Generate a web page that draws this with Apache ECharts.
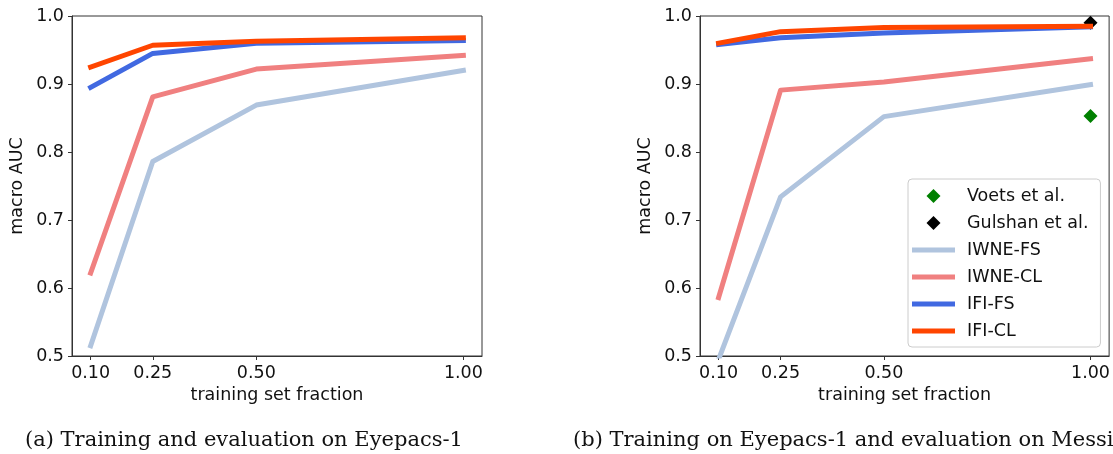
<!DOCTYPE html>
<html style="height: 100%">
  <head>
    <meta charset="utf-8" />
  </head>
  <body style="height: 100%; margin: 0; background: #fff">
    <div id="auc-container" style="width: 1113px; height: 454px"></div>
    <script type="text/javascript" src="https://cdn.jsdelivr.net/npm/echarts@6/dist/echarts.min.js"></script>
    <script type="text/javascript">
      // training set fractions (x axis)
      let fractions = [0.10, 0.25, 0.50, 1.00];
      let xTicks = [0.10, 0.25, 0.50, 1.00];

      // (a) Eyepacs-1 -> Eyepacs-1
      let iwneFsA = [0.515, 0.786, 0.869, 0.920];
      let iwneClA = [0.622, 0.881, 0.922, 0.942];
      let ifiFsA = [0.895, 0.945, 0.960, 0.964];
      let ifiClA = [0.925, 0.957, 0.963, 0.968];

      // (b) Eyepacs-1 -> Messidor
      let iwneFsB = [0.495, 0.734, 0.852, 0.899];
      let iwneClB = [0.586, 0.891, 0.903, 0.937];
      let ifiFsB = [0.958, 0.968, 0.975, 0.984];
      let ifiClB = [0.960, 0.977, 0.983, 0.985];

      // reference results (only in b)
      let voetsB = [[1.00, 0.853]];
      let gulshanB = [[1.00, 0.990]];

      let seriesNames = ["IWNE-FS", "IWNE-CL", "IFI-FS", "IFI-CL"];
      let seriesColors = ["#B0C4DE", "#F08080", "#4169E1", "#FF4500"];

      const font = "DejaVu Sans";
      const fs = 17.5;
      const axisColor = "#333";

      function pairs(ys) {
        return fractions.map(function (x, i) {
          return [x, ys[i]];
        });
      }

      function makeXAxis(idx) {
        return {
          type: "value",
          gridIndex: idx,
          min: 0.055,
          max: 1.045,
          name: "training set fraction",
          nameLocation: "middle",
          nameGap: 30,
          nameTextStyle: { fontFamily: font, fontSize: fs, color: "#111" },
          axisLine: { show: true, onZero: false, lineStyle: { color: axisColor, width: 1 } },
          axisTick: { show: true, length: 4, customValues: xTicks, lineStyle: { color: axisColor } },
          axisLabel: {
            customValues: xTicks,
            margin: 8,
            fontFamily: font,
            fontSize: fs,
            color: "#111",
            formatter: function (v) {
              return v.toFixed(2);
            },
          },
          splitLine: { show: false },
        };
      }

      function makeYAxis(idx) {
        return {
          type: "value",
          gridIndex: idx,
          min: 0.5,
          max: 1.0,
          interval: 0.1,
          name: "macro AUC",
          nameLocation: "middle",
          nameGap: 46,
          nameTextStyle: { fontFamily: font, fontSize: fs, color: "#111" },
          axisLine: { show: true, lineStyle: { color: axisColor, width: 1 } },
          axisTick: { show: true, length: 4, lineStyle: { color: axisColor } },
          axisLabel: {
            margin: 8,
            fontFamily: font,
            fontSize: fs,
            color: "#111",
            formatter: function (v) {
              return v.toFixed(1);
            },
          },
          splitLine: { show: false },
        };
      }

      function lineSeries(idx, name, color, ys) {
        return {
          name: name,
          type: "line",
          xAxisIndex: idx,
          yAxisIndex: idx,
          data: pairs(ys),
          showSymbol: false,
          symbol: "none",
          lineStyle: { color: color, width: 5, cap: "square", join: "round" },
          itemStyle: { color: color },
          emphasis: { disabled: true },
          z: 3,
        };
      }

      var dom = document.getElementById("auc-container");
      var myChart = echarts.init(dom, null, { renderer: "canvas" });

      const diamond = "path://M0,-1L1,0L0,1L-1,0Z";
      const bar = "path://M0,0h43v5h-43z";
      const captionStyle = { fontFamily: "DejaVu Serif", fontSize: 21, fontWeight: "normal", color: "#111" };

      var option = {
        animation: false,
        backgroundColor: "#fff",
        title: [
          { text: "(a) Training and evaluation on Eyepacs-1", left: 25, top: 430, padding: 0, textStyle: captionStyle },
          { text: "(b) Training on Eyepacs-1 and evaluation on Messidor", left: 573, top: 430, padding: 0, textStyle: captionStyle },
        ],
        grid: [
          { left: 72, top: 16, width: 410, height: 340, show: true, borderColor: axisColor, borderWidth: 1 },
          { left: 700, top: 16, width: 410, height: 340, show: true, borderColor: axisColor, borderWidth: 1 },
        ],
        xAxis: [makeXAxis(0), makeXAxis(1)],
        yAxis: [makeYAxis(0), makeYAxis(1)],
        legend: {
          left: 908,
          top: 179,
          orient: "vertical",
          selectedMode: false,
          itemWidth: 43,
          itemHeight: 14,
          itemGap: 9,
          symbolKeepAspect: true,
          padding: [8, 12, 7, 4],
          backgroundColor: "rgba(255,255,255,0.8)",
          borderColor: "#ccc",
          borderWidth: 1,
          borderRadius: 4,
          textStyle: { fontFamily: font, fontSize: fs, color: "#111", padding: [0, 0, 0, 7] },
          data: [
            { name: "Voets et al.", icon: diamond, itemStyle: { color: "#008000" } },
            { name: "Gulshan et al.", icon: diamond, itemStyle: { color: "#000" } },
            { name: "IWNE-FS", icon: bar, itemStyle: { color: seriesColors[0] } },
            { name: "IWNE-CL", icon: bar, itemStyle: { color: seriesColors[1] } },
            { name: "IFI-FS", icon: bar, itemStyle: { color: seriesColors[2] } },
            { name: "IFI-CL", icon: bar, itemStyle: { color: seriesColors[3] } },
          ],
        },
        series: [
          {
            name: "Voets et al.",
            type: "scatter",
            xAxisIndex: 1,
            yAxisIndex: 1,
            data: voetsB,
            symbol: "diamond",
            symbolSize: 14,
            itemStyle: { color: "#008000", opacity: 1 },
            z: 2,
          },
          {
            name: "Gulshan et al.",
            type: "scatter",
            xAxisIndex: 1,
            yAxisIndex: 1,
            data: gulshanB,
            symbol: "diamond",
            symbolSize: 14,
            itemStyle: { color: "#000", opacity: 1 },
            z: 2,
          },
          lineSeries(0, seriesNames[0], seriesColors[0], iwneFsA),
          lineSeries(0, seriesNames[1], seriesColors[1], iwneClA),
          lineSeries(0, seriesNames[2], seriesColors[2], ifiFsA),
          lineSeries(0, seriesNames[3], seriesColors[3], ifiClA),
          lineSeries(1, seriesNames[0], seriesColors[0], iwneFsB),
          lineSeries(1, seriesNames[1], seriesColors[1], iwneClB),
          lineSeries(1, seriesNames[2], seriesColors[2], ifiFsB),
          lineSeries(1, seriesNames[3], seriesColors[3], ifiClB),
        ],
      };

      if (option && typeof option === "object") {
        myChart.setOption(option);
      }
    </script>
  </body>
</html>
